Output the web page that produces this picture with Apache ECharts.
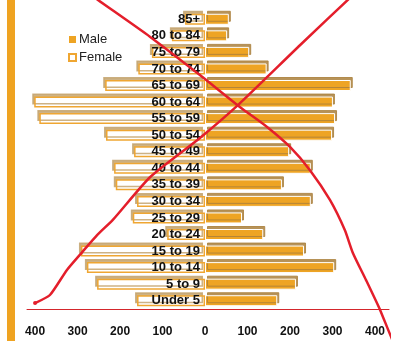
<!DOCTYPE html>
<html>
<head>
<meta charset="utf-8">
<script src="https://cdn.jsdelivr.net/npm/echarts@6/dist/echarts.min.js"></script>
<style>
  html, body { margin: 0; padding: 0; background: #fff; }
  #chart { width: 399px; height: 341px; }
</style>
</head>
<body>
<div id="chart"></div>
<script>
// age groups, top to bottom
var ages = ['85+', '80 to 84', '75 to 79', '70 to 74', '65 to 69', '60 to 64', '55 to 59',
  '50 to 54', '45 to 49', '40 to 44', '35 to 39', '30 to 34', '25 to 29', '20 to 24',
  '15 to 19', '10 to 14', '5 to 9', 'Under 5'];
var male = [56, 52, 104, 145, 343, 301, 306, 299, 198, 249, 181, 249, 87, 137, 233, 304, 214, 170];
var female = [47, 78, 125, 157, 235, 402, 390, 233, 167, 214, 210, 160, 170, 89, 292, 278, 254, 160];
var tickValues = [-400, -300, -200, -100, 0, 100, 200, 300, 400];

// red strokes drawn over the pyramid: [population, height % of plot]
var strokeUp = [[-400, 2], [-365, 4.7], [-325, 13.1], [-289, 19.1], [-254, 24.8], [-217, 29.9],
  [-129, 44.3], [-12, 57.4], [78, 68.5], [224, 88.6], [353, 106]];
var strokeDown = [[-271, 105.7], [-252, 103.7], [-129, 91.3], [-12, 78.5], [82, 67.8], [146, 61.1],
  [200, 54.4], [247, 46.6], [294, 36.6], [329, 26.5], [348, 18.8], [379, 9.7], [412, -0.3],
  [442, -10.7], [459, -14.4]];

var ORANGE = '#EEA424';
var FONT = '"Liberation Sans", Arial, sans-serif';

var chart = echarts.init(document.getElementById('chart'));
chart.setOption({
  animation: false,
  graphic: [{
    type: 'rect',
    shape: { x: 7, y: 0, width: 8, height: 341 },
    style: { fill: '#EFA321' },
    z: 0
  }],
  legend: {
    data: [
      { name: 'Male', itemStyle: { borderWidth: 0 } },
      { name: 'Female' }
    ],
    orient: 'vertical',
    left: 63,
    top: 28,
    itemWidth: 7,
    itemHeight: 7,
    itemGap: 5,
    icon: 'rect',
    textStyle: { fontFamily: FONT, fontSize: 13, color: '#222', padding: [0, 0, 0, -2] },
    itemStyle: { shadowColor: 'transparent', shadowOffsetX: 0, shadowOffsetY: 0 }
  },
  grid: { left: 27, right: 10, top: 11, bottom: 32, containLabel: false, outerBoundsMode: 'none' },
  xAxis: {
    type: 'value',
    min: -419,
    max: 433,
    splitLine: { show: false },
    axisTick: { show: false },
    axisLine: { onZero: false, lineStyle: { color: '#D4262C', width: 1 } },
    axisLabel: {
      customValues: tickValues,
      formatter: function (v) { return Math.abs(v); },
      margin: 17,
      fontFamily: FONT,
      fontWeight: 'bold',
      fontSize: 12,
      color: '#111'
    }
  },
  yAxis: [{
    type: 'category',
    data: ages,
    inverse: true,
    z: 5,
    // sit the labels at the zero line
    offset: -178,
    axisLine: { show: false, onZero: false },
    axisTick: { show: false },
    splitLine: { show: false },
    axisLabel: {
      interval: 0,
      margin: 5,
      fontFamily: FONT,
      fontWeight: 'bold',
      fontSize: 13,
      color: '#111'
    }
  }, {
    type: 'value',
    min: 0,
    max: 100,
    show: false
  }],
  series: [
    {
      name: 'Female',
      type: 'bar',
      barWidth: 11,
      barGap: '-100%',
      data: female.map(function (v) { return -v; }),
      itemStyle: {
        color: '#fff',
        borderColor: '#EFA632',
        borderWidth: 1.5,
        shadowColor: 'rgba(196,164,112,0.85)',
        shadowOffsetX: -2,
        shadowOffsetY: -3,
        shadowBlur: 0
      }
    },
    {
      name: 'Male',
      type: 'bar',
      barWidth: 11,
      data: male,
      itemStyle: {
        color: ORANGE,
        borderColor: '#fff',
        borderWidth: 1,
        shadowColor: 'rgba(170,128,60,0.85)',
        shadowOffsetX: 2,
        shadowOffsetY: -3,
        shadowBlur: 0
      }
    },
    {
      type: 'line',
      yAxisIndex: 1,
      data: strokeUp,
      clip: false,
      smooth: 0.2,
      z: 6,
      symbol: 'circle',
      symbolSize: function (v, p) { return p.dataIndex === 0 ? 4 : 0; },
      itemStyle: { color: '#E41E2B' },
      lineStyle: { color: '#E41E2B', width: 2.5 }
    },
    {
      type: 'line',
      yAxisIndex: 1,
      data: strokeDown,
      clip: false,
      smooth: 0.2,
      z: 6,
      showSymbol: false,
      lineStyle: { color: '#E41E2B', width: 2.5 }
    }
  ]
});
</script>
</body>
</html>
